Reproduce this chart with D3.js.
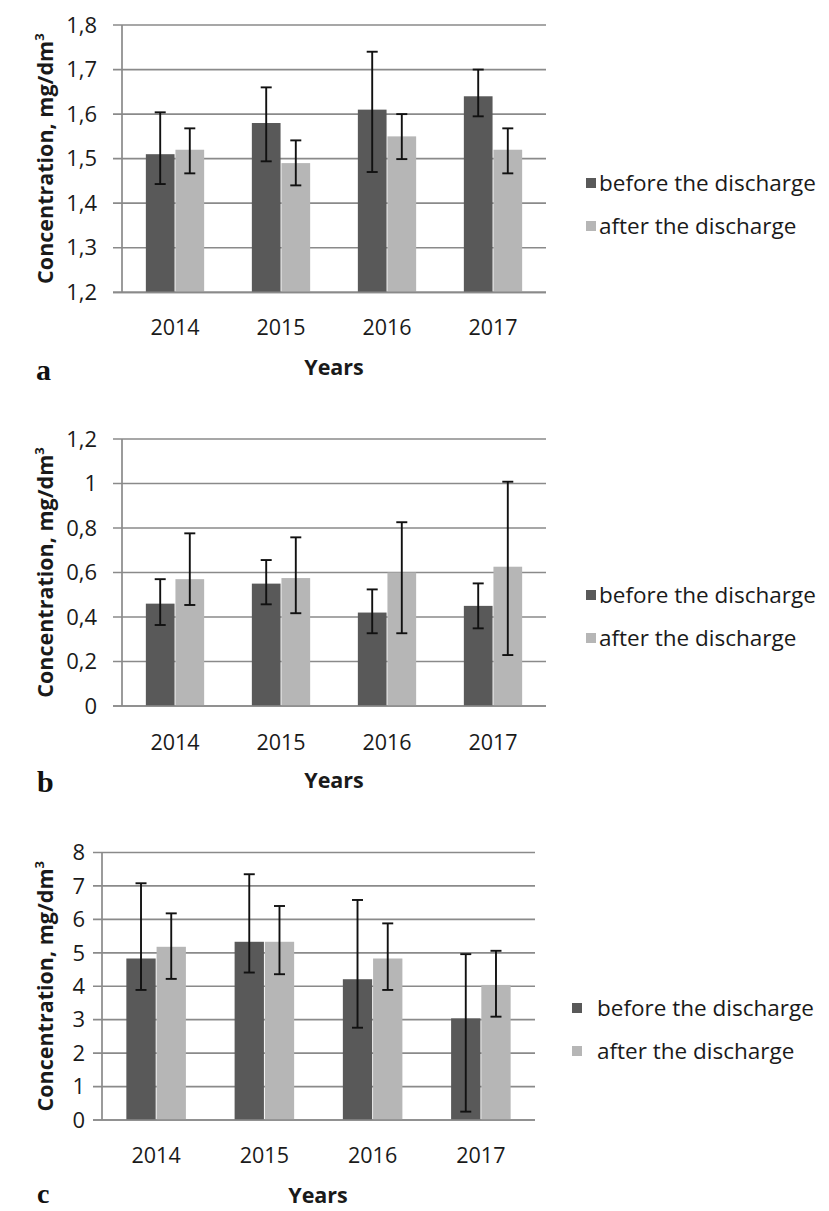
<!DOCTYPE html>
<html>
<head>
<meta charset="utf-8">
<script src="https://cdn.jsdelivr.net/npm/d3@7"></script>
<style>
  html, body { margin: 0; padding: 0; background: #ffffff; }
  svg { display: block; }
</style>
</head>
<body>
<svg id="chart" width="829" height="1211"></svg>
<script>
// ---------------- DATA ----------------
const years = ["2014", "2015", "2016", "2017"];
const seriesNames = ["before the discharge", "after the discharge"];

// Panel a
const aBefore     = [1.51, 1.58, 1.61, 1.64];
const aBeforeHigh = [1.604, 1.66, 1.74, 1.70];
const aBeforeLow  = [1.443, 1.494, 1.47, 1.595];
const aAfter      = [1.52, 1.49, 1.55, 1.52];
const aAfterHigh  = [1.568, 1.541, 1.60, 1.568];
const aAfterLow   = [1.467, 1.44, 1.499, 1.467];
const aTicks      = [1.2, 1.3, 1.4, 1.5, 1.6, 1.7, 1.8];
const aTickLabels = ["1,2", "1,3", "1,4", "1,5", "1,6", "1,7", "1,8"];

// Panel b
const bBefore     = [0.46, 0.55, 0.42, 0.45];
const bBeforeHigh = [0.57, 0.656, 0.524, 0.551];
const bBeforeLow  = [0.364, 0.457, 0.327, 0.349];
const bAfter      = [0.57, 0.575, 0.60, 0.626];
const bAfterHigh  = [0.776, 0.758, 0.826, 1.008];
const bAfterLow   = [0.454, 0.417, 0.327, 0.229];
const bTicks      = [0, 0.2, 0.4, 0.6, 0.8, 1, 1.2];
const bTickLabels = ["0", "0,2", "0,4", "0,6", "0,8", "1", "1,2"];

// Panel c
const cBefore     = [4.83, 5.33, 4.21, 3.04];
const cBeforeHigh = [7.08, 7.35, 6.58, 4.96];
const cBeforeLow  = [3.89, 4.41, 2.76, 0.25];
const cAfter      = [5.18, 5.33, 4.83, 4.04];
const cAfterHigh  = [6.18, 6.40, 5.88, 5.06];
const cAfterLow   = [4.22, 4.36, 3.89, 3.09];
const cTicks      = [0, 1, 2, 3, 4, 5, 6, 7, 8];
const cTickLabels = ["0", "1", "2", "3", "4", "5", "6", "7", "8"];

const yTitle = "Concentration, mg/dm";
const xTitle = "Years";
const panelLetters = ["a", "b", "c"];

// ---------------- STYLE ----------------
const darkColor = "#595959";
const lightColor = "#b6b6b6";
const gridColor = "#8a8a8a";
const textColor = "#1a1a1a";
const sansFont = "'Open Sans', 'DejaVu Sans', sans-serif";
const serifFont = "'Liberation Serif', 'DejaVu Serif', serif";

const svg = d3.select("#chart");

function drawPanel(cfg) {
  const g = svg.append("g");
  const x = d3.scaleBand().domain(years).range([cfg.x0, cfg.x1])
    .paddingInner(0.45).paddingOuter(0.225);
  const xs = d3.scaleBand().domain([0, 1]).range([0, x.bandwidth()]).paddingInner(0.03);
  const y = d3.scaleLinear().domain(cfg.domain).range([cfg.yBottom, cfg.yTop]);

  // gridlines (with outer tick marks)
  g.append("g").selectAll("line").data(cfg.ticks).join("line")
    .attr("x1", cfg.x0 - 9).attr("x2", cfg.x1)
    .attr("y1", d => y(d)).attr("y2", d => y(d))
    .attr("stroke", gridColor).attr("stroke-width", 1.7);

  // vertical axis line
  g.append("line")
    .attr("x1", cfg.x0).attr("x2", cfg.x0)
    .attr("y1", y(cfg.domain[1])).attr("y2", y(cfg.domain[0]))
    .attr("stroke", gridColor).attr("stroke-width", 1.7);

  // tick labels
  g.append("g").selectAll("text").data(cfg.ticks).join("text")
    .attr("x", cfg.labelRight).attr("y", d => y(d))
    .attr("dy", "0.35em").attr("text-anchor", "end")
    .attr("font-family", sansFont).attr("font-size", 22).attr("fill", textColor)
    .text((d, i) => cfg.tickLabels[i]);

  const series = [
    { vals: cfg.before, hi: cfg.beforeHigh, lo: cfg.beforeLow, color: darkColor, k: 0 },
    { vals: cfg.after, hi: cfg.afterHigh, lo: cfg.afterLow, color: lightColor, k: 1 }
  ];

  series.forEach(s => {
    const data = years.map((yr, i) => ({ yr, v: s.vals[i] }));
    g.append("g").selectAll("rect").data(data).join("rect")
      .attr("x", d => x(d.yr) + xs(s.k))
      .attr("width", xs.bandwidth())
      .attr("y", d => y(d.v))
      .attr("height", d => y(cfg.domain[0]) - y(d.v))
      .attr("fill", s.color);
  });

  // bottom axis line above bars
  g.append("line")
    .attr("x1", cfg.x0 - 9).attr("x2", cfg.x1)
    .attr("y1", y(cfg.domain[0])).attr("y2", y(cfg.domain[0]))
    .attr("stroke", gridColor).attr("stroke-width", 1.7);

  // error bars
  series.forEach(s => {
    const data = years.map((yr, i) => ({ yr, hi: s.hi[i], lo: s.lo[i] }));
    const eg = g.append("g").selectAll("g").data(data).join("g")
      .attr("transform", d => `translate(${x(d.yr) + xs(s.k) + xs.bandwidth() / 2},0)`);
    eg.append("line").attr("x1", 0).attr("x2", 0)
      .attr("y1", d => y(d.hi)).attr("y2", d => y(d.lo))
      .attr("stroke", "#111").attr("stroke-width", 1.9);
    ["hi", "lo"].forEach(key => {
      eg.append("line").attr("x1", -5.5).attr("x2", 5.5)
        .attr("y1", d => y(d[key])).attr("y2", d => y(d[key]))
        .attr("stroke", "#111").attr("stroke-width", 1.9);
    });
  });

  // category labels
  g.append("g").selectAll("text").data(years).join("text")
    .attr("x", d => x(d) + x.bandwidth() / 2)
    .attr("y", cfg.yearY).attr("dy", "0.35em")
    .attr("text-anchor", "middle")
    .attr("font-family", sansFont).attr("font-size", 21.5).attr("fill", textColor)
    .text(d => d);

  // x title
  g.append("text")
    .attr("x", cfg.xTitleX).attr("y", cfg.xTitleY).attr("dy", "0.35em")
    .attr("text-anchor", "middle")
    .attr("font-family", sansFont).attr("font-size", 21.5).attr("font-weight", "bold")
    .attr("fill", textColor).text(xTitle);

  // y title
  const yt = g.append("text")
    .attr("transform", `translate(${cfg.yTitleX},${(cfg.yTop + cfg.yBottom) / 2}) rotate(-90)`)
    .attr("text-anchor", "middle")
    .attr("font-family", sansFont).attr("font-size", 21.5).attr("font-weight", "bold")
    .attr("fill", textColor);
  yt.append("tspan").text(yTitle);
  yt.append("tspan").attr("dy", -9).attr("font-size", 13).text("3");

  // panel letter
  g.append("text")
    .attr("x", cfg.letterX).attr("y", cfg.letterY)
    .attr("font-family", serifFont).attr("font-size", cfg.letterSize).attr("font-weight", "bold")
    .attr("fill", "#111").text(cfg.letter);

  // legend
  const colors = [darkColor, lightColor];
  seriesNames.forEach((name, i) => {
    const ly = cfg.legendY + i * 43;
    g.append("rect").attr("x", cfg.legendSquareX).attr("y", ly - 5)
      .attr("width", 10).attr("height", 10).attr("fill", colors[i]);
    g.append("text").attr("x", cfg.legendTextX).attr("y", ly).attr("dy", "0.35em")
      .attr("font-family", sansFont).attr("font-size", 22.5).attr("fill", textColor)
      .text(name);
  });
}

drawPanel({
  x0: 122, x1: 546, yTop: 25, yBottom: 292.3, domain: [1.2, 1.8],
  ticks: aTicks, tickLabels: aTickLabels, labelRight: 97,
  before: aBefore, beforeHigh: aBeforeHigh, beforeLow: aBeforeLow,
  after: aAfter, afterHigh: aAfterHigh, afterLow: aAfterLow,
  yearY: 327, xTitleX: 334, xTitleY: 367, yTitleX: 53,
  letter: panelLetters[0], letterX: 36, letterY: 380, letterSize: 30,
  legendY: 183, legendSquareX: 586, legendTextX: 599
});

drawPanel({
  x0: 122, x1: 546, yTop: 439, yBottom: 706, domain: [0, 1.2],
  ticks: bTicks, tickLabels: bTickLabels, labelRight: 97,
  before: bBefore, beforeHigh: bBeforeHigh, beforeLow: bBeforeLow,
  after: bAfter, afterHigh: bAfterHigh, afterLow: bAfterLow,
  yearY: 742, xTitleX: 334, xTitleY: 780, yTitleX: 53,
  letter: panelLetters[1], letterX: 37, letterY: 792, letterSize: 30,
  legendY: 595, legendSquareX: 586, legendTextX: 599
});

drawPanel({
  x0: 102, x1: 535, yTop: 852.5, yBottom: 1120, domain: [0, 8],
  ticks: cTicks, tickLabels: cTickLabels, labelRight: 85,
  before: cBefore, beforeHigh: cBeforeHigh, beforeLow: cBeforeLow,
  after: cAfter, afterHigh: cAfterHigh, afterLow: cAfterLow,
  yearY: 1155, xTitleX: 318, xTitleY: 1195, yTitleX: 53,
  letter: panelLetters[2], letterX: 37, letterY: 1203, letterSize: 28,
  legendY: 1008, legendSquareX: 572, legendTextX: 597
});
</script>
</body>
</html>
